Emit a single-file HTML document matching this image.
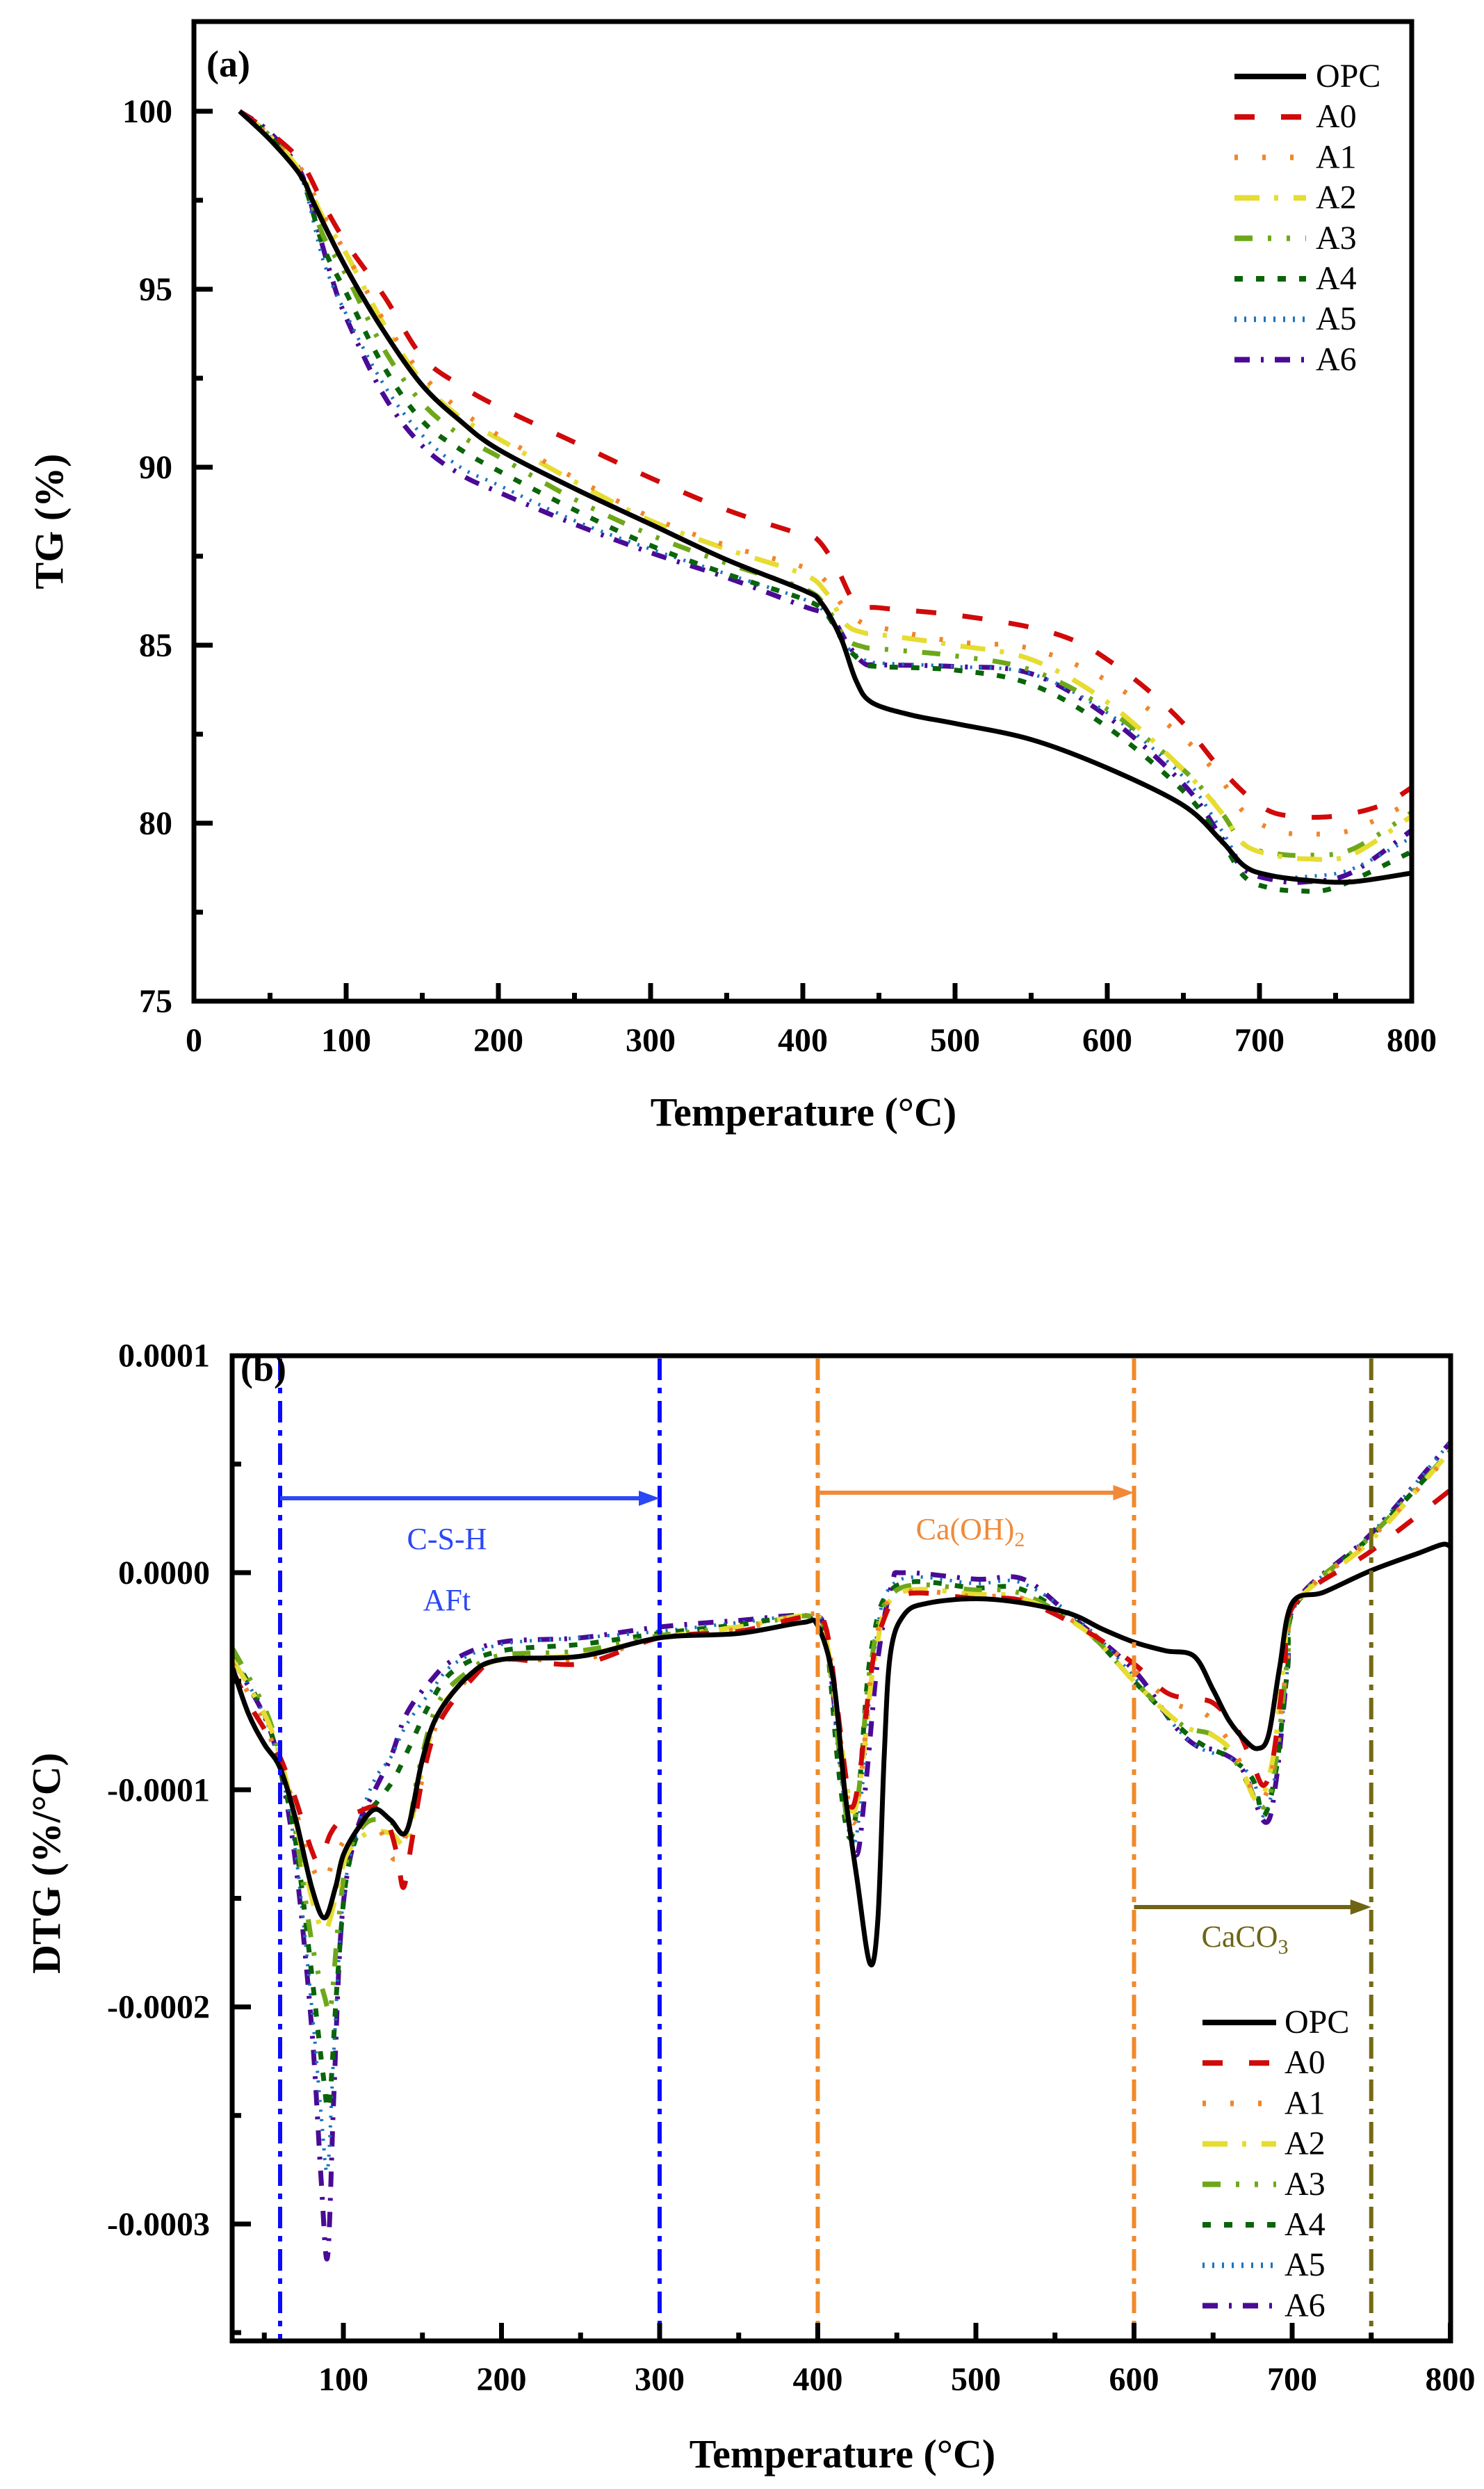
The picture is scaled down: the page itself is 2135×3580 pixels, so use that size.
<!DOCTYPE html>
<html><head><meta charset="utf-8"><style>
html,body{margin:0;padding:0;background:#fff;}
svg{display:block;}
text{font-family:"Liberation Serif","Times New Roman",serif;}
</style></head><body>
<svg id="s" width="2135" height="3580" viewBox="0 0 2135 3580" xmlns="http://www.w3.org/2000/svg">
<defs>
<clipPath id="ca"><rect x="282" y="34" width="1746" height="1403"/></clipPath>
<clipPath id="cb"><rect x="337" y="1953" width="1747" height="1411"/></clipPath>
</defs>
<g id="ga" clip-path="url(#ca)"></g>
<g id="gb" clip-path="url(#cb)"></g>
<g id="gx"></g>
</svg>
<script>
var NS="http://www.w3.org/2000/svg";
function el(p,tag,at,txt){var e=document.createElementNS(NS,tag);for(var k in at)e.setAttribute(k,at[k]);if(txt!==undefined)e.textContent=txt;p.appendChild(e);return e;}
var gx=document.getElementById('gx');
var ga=document.getElementById('ga'), gb=document.getElementById('gb');
var styles={
OPC:{c:'#000000',d:'',w:7},
A0:{c:'#d00a0a',d:'29 38',w:7},
A1:{c:'#f0862a',d:'5 35',w:7},
A2:{c:'#e6dc32',d:'36 21 6 22',w:7},
A3:{c:'#6ea81a',d:'26 22 5 22 5 22',w:7},
A4:{c:'#0a640a',d:'12 19',w:7},
A5:{c:'#1a74c0',d:'3 11',w:5},
A6:{c:'#4a0a96',d:'22 16 4 16',w:7}
};
function path(pts,X,Y){
 var P=pts.map(function(p){return [X(p[0]),Y(p[1])];});
 var d='M'+P[0][0].toFixed(1)+','+P[0][1].toFixed(1);
 for(var i=0;i<P.length-1;i++){
  var p0=P[i-1]||P[i],p1=P[i],p2=P[i+1],p3=P[i+2]||p2;
  var c1=[p1[0]+(p2[0]-p0[0])/6,p1[1]+(p2[1]-p0[1])/6];
  var c2=[p2[0]-(p3[0]-p1[0])/6,p2[1]-(p3[1]-p1[1])/6];
  d+='C'+c1[0].toFixed(1)+','+c1[1].toFixed(1)+' '+c2[0].toFixed(1)+','+c2[1].toFixed(1)+' '+p2[0].toFixed(1)+','+p2[1].toFixed(1);
 }
 return d;
}
var XA=function(t){return 279+t*2.19;}, YA=function(v){return 160+(100-v)*51.2;};
var TG={
OPC:[[30,100],[50,99.2],[70,98.2],[80,97.3],[100,95.6],[125,93.8],[150,92.3],[175,91.3],[200,90.5],[250,89.4],[300,88.4],[350,87.4],[400,86.55],[412,86.2],[425,85.2],[435,84.0],[445,83.4],[470,83.05],[500,82.8],[550,82.35],[600,81.55],[650,80.5],[675,79.5],[690,78.8],[705,78.55],[730,78.4],[760,78.35],[800,78.6]],
A0:[[30,100],[50,99.4],[70,98.6],[85,97.4],[100,96.3],[125,94.8],[150,93.1],[175,92.3],[200,91.7],[250,90.7],[300,89.7],[350,88.8],[400,88.1],[410,87.95],[422,87.2],[435,86.15],[450,86.05],[500,85.85],[550,85.5],[580,85.1],[600,84.6],[625,83.8],[650,82.8],[675,81.5],[700,80.5],[720,80.2],[750,80.2],[780,80.5],[800,81.0]],
A1:[[30,100],[50,99.3],[70,98.4],[85,97.1],[100,96.0],[125,94.1],[150,92.6],[175,91.6],[200,90.9],[250,89.7],[300,88.6],[350,87.8],[400,87.2],[415,86.8],[428,86.0],[440,85.6],[450,85.5],[500,85.1],[550,84.9],[600,84.0],[650,82.4],[675,81.2],[690,80.3],[710,79.8],[730,79.7],[760,79.8],[800,80.6]],
A2:[[30,100],[50,99.3],[70,98.3],[85,97.0],[100,96.0],[125,94.0],[150,92.4],[175,91.4],[200,90.8],[250,89.6],[300,88.5],[350,87.7],[400,87.0],[415,86.5],[428,85.6],[440,85.35],[450,85.3],[500,85.0],[550,84.6],[600,83.4],[650,81.5],[675,80.3],[690,79.4],[710,79.1],[730,79.0],[760,79.1],[800,80.2]],
A3:[[30,100],[50,99.3],[70,98.2],[85,96.5],[100,95.4],[125,93.3],[150,91.8],[175,90.9],[200,90.3],[250,89.1],[300,88.1],[350,87.3],[400,86.6],[415,86.1],[428,85.2],[440,84.95],[450,84.9],[500,84.7],[550,84.3],[600,83.2],[650,81.5],[675,80.3],[690,79.4],[710,79.15],[730,79.1],[760,79.25],[800,80.3]],
A4:[[30,100],[50,99.3],[70,98.2],[85,96.2],[100,94.9],[125,92.8],[150,91.3],[175,90.5],[200,89.9],[250,88.8],[300,87.8],[350,87.0],[400,86.3],[415,85.9],[428,85.0],[440,84.5],[450,84.4],[500,84.3],[550,83.9],[600,82.7],[650,80.9],[675,79.5],[690,78.5],[705,78.2],[725,78.1],[750,78.2],[800,79.2]],
A5:[[30,100],[50,99.3],[70,98.2],[85,95.8],[100,94.3],[125,92.3],[150,90.9],[175,90.0],[200,89.5],[250,88.5],[300,87.7],[350,87.0],[400,86.3],[415,85.9],[428,85.0],[440,84.6],[450,84.5],[500,84.4],[550,84.2],[600,83.1],[650,81.3],[675,79.8],[690,78.8],[710,78.5],[730,78.5],[760,78.7],[800,79.6]],
A6:[[30,100],[50,99.4],[70,98.3],[80,96.9],[90,95.4],[100,94.2],[125,92.0],[150,90.6],[175,89.8],[200,89.3],[250,88.4],[300,87.6],[350,86.9],[400,86.1],[418,85.8],[430,85.0],[440,84.5],[450,84.45],[500,84.4],[550,84.2],[600,83.0],[650,81.1],[675,79.6],[690,78.7],[710,78.4],[730,78.35],[760,78.6],[800,79.8]]
};
var order=['A6','A5','A4','A3','A2','A1','A0','OPC'];
order.forEach(function(k){var s=styles[k];el(ga,'path',{d:path(TG[k],XA,YA),fill:'none',stroke:s.c,'stroke-width':s.w,'stroke-dasharray':s.d,'stroke-linejoin':'round'});});
el(gx,'rect',{x:279,y:31,width:1752,height:1409,fill:'none',stroke:'#000','stroke-width':7});
for(var t=0;t<=800;t+=50){var x=XA(t);el(gx,'line',{x1:x,y1:1440,x2:x,y2:t%100==0?1414:1428,stroke:'#000','stroke-width':7});
 if(t%100==0)el(gx,'text',{x:x,y:1512,'font-size':48,'font-weight':'bold','text-anchor':'middle'},String(t));}
for(var v=75;v<=102.5;v+=2.5){var y=YA(v);if(y<35)continue;el(gx,'line',{x1:279,y1:y,x2:v%5==0?306:292,y2:y,stroke:'#000','stroke-width':7});
 if(v%5==0)el(gx,'text',{x:248,y:y+16,'font-size':48,'font-weight':'bold','text-anchor':'end'},String(v));}
el(gx,'text',{x:297,y:110,'font-size':54,'font-weight':'bold'},'(a)');
el(gx,'text',{x:1156,y:1619,'font-size':58,'font-weight':'bold','text-anchor':'middle'},'Temperature (\u00B0C)');
el(gx,'text',{x:0,y:0,'font-size':58,'font-weight':'bold','text-anchor':'middle',transform:'translate(90,750) rotate(-90)'},'TG (%)');
var names=['OPC','A0','A1','A2','A3','A4','A5','A6'];
names.forEach(function(k,i){var y=110+i*58.2,s=styles[k];
 el(gx,'line',{x1:1776,y1:y,x2:1879,y2:y,stroke:s.c,'stroke-width':8,'stroke-dasharray':s.d});
 el(gx,'text',{x:1893,y:y+15,'font-size':48},k);});
var XB=function(t){return 494+(t-100)*2.275;}, YB=function(v){return 2262-v*312.3;};
function vline(t,c){var x=XB(t);el(gx,'line',{x1:x,y1:1954,x2:x,y2:3364,stroke:c,'stroke-width':6,'stroke-dasharray':'31 11 8 11'});}
vline(60,'#0a0aff');vline(300,'#0a0aff');vline(400,'#f08a2a');vline(600,'#f08a2a');vline(750,'#756a14');
function arrow(t1,t2,y,c){var x1=XB(t1),x2=XB(t2);el(gx,'line',{x1:x1,y1:y,x2:x2-24,y2:y,stroke:c,'stroke-width':6});
 el(gx,'polygon',{points:(x2-30)+','+(y-11)+' '+x2+','+y+' '+(x2-30)+','+(y+11),fill:c});}
arrow(60,300,2155,'#2a48f5');arrow(400,600,2147,'#f08a3a');arrow(600,750,2743,'#6e6414');
var DT={
OPC:[[30,-0.44],[40,-0.65],[50,-0.79],[60,-0.9],[70,-1.14],[80,-1.45],[88,-1.59],[95,-1.45],[100,-1.3],[110,-1.17],[120,-1.09],[130,-1.14],[140,-1.19],[150,-0.86],[160,-0.65],[180,-0.47],[200,-0.4],[250,-0.385],[300,-0.3],[350,-0.28],[390,-0.23],[400,-0.245],[410,-0.5],[417,-1.0],[425,-1.42],[433,-1.8],[438,-1.6],[442,-0.85],[446,-0.37],[455,-0.19],[470,-0.14],[500,-0.12],[530,-0.14],[560,-0.19],[580,-0.26],[600,-0.32],[620,-0.36],[638,-0.385],[650,-0.54],[660,-0.68],[670,-0.77],[678,-0.81],[685,-0.75],[692,-0.44],[700,-0.14],[720,-0.09],[750,0.01],[780,0.09],[795,0.13],[800,0.12]],
A0:[[30,-0.45],[40,-0.6],[50,-0.72],[60,-0.85],[70,-1.05],[80,-1.28],[85,-1.33],[92,-1.2],[100,-1.13],[110,-1.1],[120,-1.08],[128,-1.15],[134,-1.3],[138,-1.45],[143,-1.25],[150,-0.95],[160,-0.7],[180,-0.5],[200,-0.4],[250,-0.42],[300,-0.3],[350,-0.27],[395,-0.2],[405,-0.25],[412,-0.6],[418,-0.95],[422,-1.08],[427,-0.9],[433,-0.5],[440,-0.25],[455,-0.1],[500,-0.12],[530,-0.13],[570,-0.27],[600,-0.42],[620,-0.55],[635,-0.58],[650,-0.6],[665,-0.72],[675,-0.88],[682,-0.98],[688,-0.85],[695,-0.45],[702,-0.14],[750,0.1],[800,0.38]],
A1:[[30,-0.42],[50,-0.7],[60,-0.88],[70,-1.1],[80,-1.35],[88,-1.42],[95,-1.3],[105,-1.2],[120,-1.15],[132,-1.32],[140,-1.2],[150,-0.95],[160,-0.68],[180,-0.48],[200,-0.4],[250,-0.4],[300,-0.3],[350,-0.26],[395,-0.19],[405,-0.26],[414,-0.75],[422,-1.15],[428,-0.9],[436,-0.35],[450,-0.1],[500,-0.11],[530,-0.12],[570,-0.26],[600,-0.45],[625,-0.6],[645,-0.65],[662,-0.8],[680,-1.05],[690,-0.8],[697,-0.4],[703,-0.13],[750,0.16],[800,0.55]],
A2:[[30,-0.4],[50,-0.65],[60,-0.85],[70,-1.15],[80,-1.5],[88,-1.65],[95,-1.5],[102,-1.3],[115,-1.2],[130,-1.2],[140,-1.25],[147,-1.0],[160,-0.65],[180,-0.48],[200,-0.4],[250,-0.38],[300,-0.3],[350,-0.25],[395,-0.2],[405,-0.3],[415,-0.8],[422,-1.1],[428,-0.9],[436,-0.4],[450,-0.1],[500,-0.1],[530,-0.12],[570,-0.27],[600,-0.5],[630,-0.7],[650,-0.75],[665,-0.85],[678,-1.05],[688,-0.85],[695,-0.4],[702,-0.14],[750,0.15],[800,0.56]],
A3:[[30,-0.35],[50,-0.62],[60,-0.85],[70,-1.2],[80,-1.7],[88,-1.95],[92,-2.0],[97,-1.6],[103,-1.3],[115,-1.15],[130,-1.15],[140,-1.2],[148,-0.9],[160,-0.6],[180,-0.45],[200,-0.38],[250,-0.36],[300,-0.29],[350,-0.25],[395,-0.2],[405,-0.3],[414,-0.85],[420,-1.2],[426,-1.0],[434,-0.4],[450,-0.08],[500,-0.08],[530,-0.1],[570,-0.27],[600,-0.5],[630,-0.7],[650,-0.75],[665,-0.88],[682,-1.08],[690,-0.85],[697,-0.4],[703,-0.13],[750,0.17],[800,0.56]],
A4:[[30,-0.38],[50,-0.65],[60,-0.9],[70,-1.25],[80,-1.85],[87,-2.3],[91,-2.45],[96,-1.9],[102,-1.4],[112,-1.15],[122,-1.05],[132,-0.95],[142,-0.8],[155,-0.6],[170,-0.45],[200,-0.36],[250,-0.33],[300,-0.28],[350,-0.24],[395,-0.2],[405,-0.3],[413,-0.9],[420,-1.22],[426,-1.0],[434,-0.35],[450,-0.06],[500,-0.07],[530,-0.08],[570,-0.27],[600,-0.5],[630,-0.72],[645,-0.8],[660,-0.85],[675,-0.95],[682,-1.12],[690,-0.9],[697,-0.45],[703,-0.14],[750,0.17],[800,0.56]],
A5:[[30,-0.38],[50,-0.66],[60,-0.9],[70,-1.3],[80,-2.0],[86,-2.5],[90,-2.75],[94,-2.2],[100,-1.5],[110,-1.15],[120,-0.95],[130,-0.85],[140,-0.7],[155,-0.55],[170,-0.42],[200,-0.33],[250,-0.3],[300,-0.27],[350,-0.23],[395,-0.2],[405,-0.3],[414,-0.9],[422,-1.25],[428,-1.0],[436,-0.35],[450,-0.04],[500,-0.05],[530,-0.05],[570,-0.25],[600,-0.48],[630,-0.74],[645,-0.82],[660,-0.85],[675,-0.95],[682,-1.12],[690,-0.9],[697,-0.45],[703,-0.14],[750,0.18],[800,0.6]],
A6:[[30,-0.4],[50,-0.66],[60,-0.9],[70,-1.35],[80,-2.1],[86,-2.8],[90,-3.15],[94,-2.4],[99,-1.6],[108,-1.2],[120,-1.0],[130,-0.85],[140,-0.65],[155,-0.5],[170,-0.4],[200,-0.32],[250,-0.3],[300,-0.25],[350,-0.22],[395,-0.2],[405,-0.3],[415,-0.9],[424,-1.3],[430,-1.0],[438,-0.4],[447,-0.05],[455,0.0],[500,-0.03],[530,-0.03],[560,-0.2],[600,-0.45],[625,-0.7],[640,-0.8],[652,-0.82],[668,-0.9],[683,-1.15],[690,-0.95],[697,-0.45],[703,-0.13],[750,0.18],[800,0.6]]
};
order.forEach(function(k){var s=styles[k];el(gb,'path',{d:path(DT[k],XB,YB),fill:'none',stroke:s.c,'stroke-width':s.w,'stroke-dasharray':s.d,'stroke-linejoin':'round'});});
el(gx,'rect',{x:334,y:1950,width:1753,height:1417,fill:'none',stroke:'#000','stroke-width':7});
for(var t=50;t<=800;t+=50){var x=XB(t);el(gx,'line',{x1:x,y1:3367,x2:x,y2:t%100==0?3341:3355,stroke:'#000','stroke-width':7});
 if(t%100==0)el(gx,'text',{x:x,y:3438,'font-size':48,'font-weight':'bold','text-anchor':'middle'},String(t));}
var yl={'1':'0.0001','0':'0.0000','-1':'-0.0001','-2':'-0.0002','-3':'-0.0003'};
for(var v=-3.5;v<=1;v+=0.5){var y=YB(v);var maj=Math.abs(v-Math.round(v))<1e-6;
 if(v<1)el(gx,'line',{x1:334,y1:y,x2:maj?361:347,y2:y,stroke:'#000','stroke-width':7});
 if(maj)el(gx,'text',{x:302,y:y+16,'font-size':48,'font-weight':'bold','text-anchor':'end'},yl[String(Math.round(v))]);}
el(gx,'text',{x:346,y:1986,'font-size':54,'font-weight':'bold'},'(b)');
el(gx,'text',{x:1212,y:3549,'font-size':58,'font-weight':'bold','text-anchor':'middle'},'Temperature (\u00B0C)');
el(gx,'text',{x:0,y:0,'font-size':58,'font-weight':'bold','text-anchor':'middle',transform:'translate(86,2680) rotate(-90)'},'DTG (%/\u00B0C)');
el(gx,'text',{x:643,y:2228,'font-size':44,fill:'#2a48f5','text-anchor':'middle'},'C-S-H');
el(gx,'text',{x:643,y:2316,'font-size':44,fill:'#2a48f5','text-anchor':'middle'},'AFt');
var t1=el(gx,'text',{x:1396,y:2214,'font-size':44,fill:'#f08a3a','text-anchor':'middle'},'Ca(OH)');
el(t1,'tspan',{'font-size':30,dy:10},'2');
var t2=el(gx,'text',{x:1791,y:2800,'font-size':44,fill:'#6e6414','text-anchor':'middle'},'CaCO');
el(t2,'tspan',{'font-size':30,dy:10},'3');
names.forEach(function(k,i){var y=2909+i*58.2,s=styles[k];
 el(gx,'line',{x1:1730,y1:y,x2:1836,y2:y,stroke:s.c,'stroke-width':8,'stroke-dasharray':s.d});
 el(gx,'text',{x:1848,y:y+15,'font-size':48},k);});
</script>
</body></html>
